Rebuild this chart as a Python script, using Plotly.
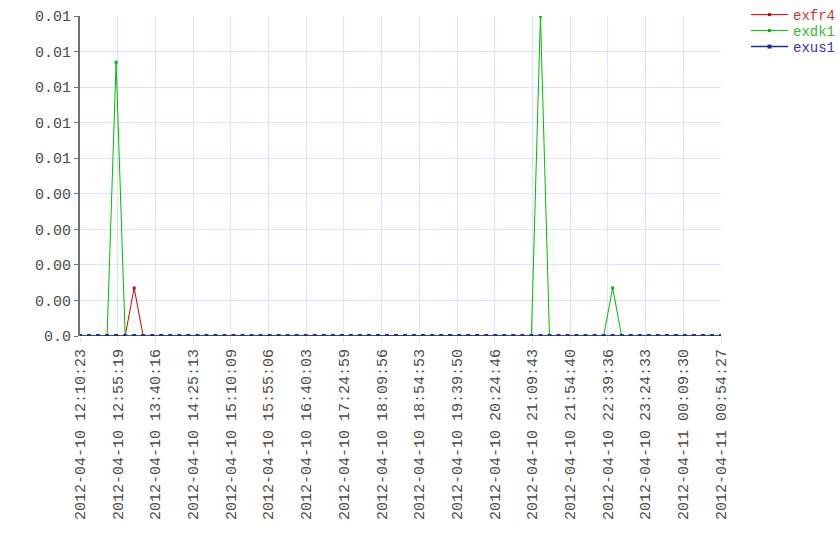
import pandas as pd
import plotly.graph_objects as go

start_time = "2012-04-10 12:10:23"
end_time = "2012-04-11 00:54:27"
n_points = 72

tick_labels = [
    "2012-04-10 12:10:23", "2012-04-10 12:55:19", "2012-04-10 13:40:16",
    "2012-04-10 14:25:13", "2012-04-10 15:10:09", "2012-04-10 15:55:06",
    "2012-04-10 16:40:03", "2012-04-10 17:24:59", "2012-04-10 18:09:56",
    "2012-04-10 18:54:53", "2012-04-10 19:39:50", "2012-04-10 20:24:46",
    "2012-04-10 21:09:43", "2012-04-10 21:54:40", "2012-04-10 22:39:36",
    "2012-04-10 23:24:33", "2012-04-11 00:09:30", "2012-04-11 00:54:27",
]

y_tickvals = [0, 0.001, 0.002, 0.003, 0.004, 0.005, 0.006, 0.007, 0.008, 0.009]
y_ticktext = ["0.0", "0.00", "0.00", "0.00", "0.00", "0.01", "0.01", "0.01", "0.01", "0.01"]

exfr4 = [0, 0, 0, 0, 0, 0, 0.00135, 0, 0, 0,
         0, 0, 0, 0, 0, 0, 0, 0, 0, 0,
         0, 0, 0, 0, 0, 0, 0, 0, 0, 0,
         0, 0, 0, 0, 0, 0, 0, 0, 0, 0,
         0, 0, 0, 0, 0, 0, 0, 0, 0, 0,
         0, 0, 0, 0, 0, 0, 0, 0, 0, 0,
         0, 0, 0, 0, 0, 0, 0, 0, 0, 0,
         0, 0]
exdk1 = [0, 0, 0, 0, 0.0077, 0, 0, 0, 0, 0,
         0, 0, 0, 0, 0, 0, 0, 0, 0, 0,
         0, 0, 0, 0, 0, 0, 0, 0, 0, 0,
         0, 0, 0, 0, 0, 0, 0, 0, 0, 0,
         0, 0, 0, 0, 0, 0, 0, 0, 0, 0,
         0, 0.009, 0, 0, 0, 0, 0, 0, 0, 0.00135,
         0, 0, 0, 0, 0, 0, 0, 0, 0, 0,
         0, 0]
exus1 = [0] * n_points

times = pd.date_range(start_time, end_time, periods=n_points)

series = [
    ("exfr4", exfr4, "#cc0000", "#cc3333", 1, 3),
    ("exdk1", exdk1, "#00bb00", "#33bb33", 1, 3),
    ("exus1", exus1, "#1a2fa0", "#3333cc", 1.5, 4),
]

font_family = "Liberation Mono, Courier New, monospace"
text_color = "#4a4a4a"

# pixel geometry of plot area: x 80..721, y 16..336
legend_names = ["legend", "legend2", "legend3"]
legend_centers_px = [15, 31, 47]

fig = go.Figure()
layout_legends = {}
for (name, vals, col, tcol, lw, ms), lg, cy in zip(series, legend_names, legend_centers_px):
    fig.add_trace(go.Scatter(
        x=times, y=vals, mode="lines+markers",
        name=name,
        legend=lg,
        line=dict(color=col, width=lw),
        marker=dict(color=col, size=ms, symbol="square"),
    ))
    layout_legends[lg] = dict(
        x=(746 - 80) / 641, xanchor="left",
        y=(336 - cy) / 320, yanchor="middle",
        font=dict(family=font_family, size=14, color=tcol),
        bgcolor="rgba(0,0,0,0)", itemwidth=37,
    )

fig.update_layout(
    width=840, height=560,
    margin=dict(l=80, r=119, t=16, b=224, autoexpand=False),
    paper_bgcolor="white", plot_bgcolor="white",
    font=dict(family=font_family, size=15, color=text_color),
    showlegend=True,
    xaxis=dict(
        type="date",
        range=[times[0], times[-1]],
        tickvals=pd.to_datetime(tick_labels),
        ticktext=tick_labels,
        tickangle=-90,
        showgrid=True, gridcolor="#e0e0ff", gridwidth=1,
        ticks="outside", ticklen=6, tickcolor="#e0e0ff",
        showline=False, zeroline=False, automargin=False,
        tickfont=dict(family=font_family, size=15, color=text_color),
    ),
    yaxis=dict(
        range=[0, 0.009],
        tickvals=y_tickvals,
        ticktext=y_ticktext,
        showgrid=True, gridcolor="#e0e0ff", gridwidth=1,
        ticks="outside", ticklen=4, tickcolor="#707078",
        showline=True, linecolor="#707078", linewidth=2,
        zeroline=False, automargin=False,
        tickfont=dict(family=font_family, size=15, color=text_color),
    ),
    **layout_legends,
)

fig.write_html(
    "out.html",
    config={"displayModeBar": False},
    post_script="document.body.style.margin='0';document.body.style.overflow='hidden';",
)
